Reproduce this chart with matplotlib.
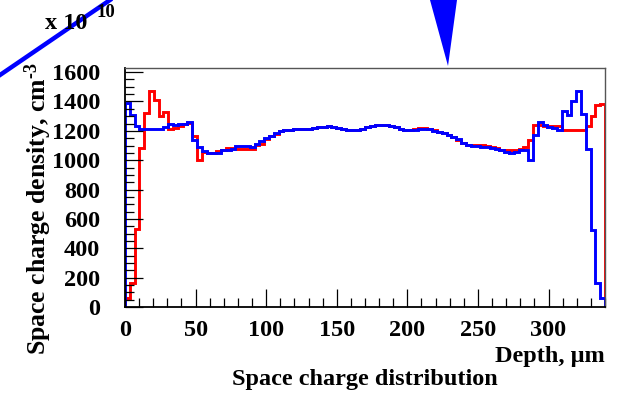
import numpy as np
import matplotlib.pyplot as plt
from matplotlib.patches import Polygon
from matplotlib.lines import Line2D
from matplotlib.ticker import MultipleLocator

plt.rcParams['font.family'] = ['Liberation Serif', 'DejaVu Serif']
plt.rcParams['font.weight'] = 'bold'
plt.rcParams['mathtext.fontset'] = 'custom'
plt.rcParams['mathtext.rm'] = 'Liberation Serif:bold'
plt.rcParams['mathtext.bf'] = 'Liberation Serif:bold'
plt.rcParams['mathtext.it'] = 'Liberation Serif:bold'

# histogram: 100 bins from 0 to 340 um, values in units of 1e10 cm^-3
edges = np.linspace(0, 340, 101)

red = [60, 165, 530, 1080, 1320, 1470, 1410, 1300, 1330, 1210,
       1220, 1230, 1250, 1256, 1166, 1003, 1058, 1049, 1049, 1060,
       1072, 1083, 1083, 1078, 1078, 1074, 1078, 1106, 1113, 1145,
       1163, 1181, 1197, 1203, 1208, 1213, 1213, 1215, 1216, 1220,
       1225, 1228, 1230, 1228, 1222, 1212, 1205, 1203, 1204, 1210,
       1228, 1236, 1242, 1242, 1238, 1230, 1224, 1212, 1208, 1208,
       1213, 1220, 1220, 1215, 1203, 1195, 1185, 1172, 1158, 1140,
       1117, 1106, 1106, 1106, 1106, 1099, 1090, 1083, 1072, 1067,
       1067, 1070, 1078, 1090, 1140, 1242, 1242, 1231, 1235, 1231,
       1231, 1208, 1204, 1204, 1204, 1208, 1231, 1304, 1379, 1386]

blue = [1390, 1310, 1230, 1210, 1210, 1210, 1210, 1215, 1225, 1245,
        1240, 1245, 1250, 1258, 1135, 1088, 1060, 1050, 1050, 1052,
        1068, 1072, 1078, 1094, 1098, 1094, 1090, 1113, 1128, 1151,
        1167, 1185, 1197, 1203, 1208, 1210, 1213, 1215, 1215, 1220,
        1225, 1228, 1230, 1228, 1222, 1212, 1205, 1203, 1204, 1210,
        1228, 1236, 1242, 1242, 1238, 1230, 1224, 1210, 1206, 1205,
        1208, 1210, 1213, 1210, 1200, 1195, 1185, 1175, 1160, 1145,
        1120, 1105, 1097, 1094, 1090, 1090, 1083, 1078, 1067, 1053,
        1049, 1053, 1067, 1072, 1003, 1174, 1258, 1242, 1224, 1220,
        1204, 1333, 1310, 1401, 1470, 1317, 1076, 526, 166, 59]

fig = plt.figure(figsize=(6.22, 3.93), dpi=100)
ax = fig.add_axes([0.201, 0.2188, 0.7717, 0.6081])

ax.stairs(red, edges, baseline=0, color='#ff0000', lw=2.1)
ax.stairs(blue, edges, baseline=0, color='#0000ff', lw=2.1)

ax.set_xlim(0, 340)
ax.set_ylim(0, 1628)

ax.xaxis.set_major_locator(MultipleLocator(50))
ax.xaxis.set_minor_locator(MultipleLocator(10))
ax.yaxis.set_major_locator(MultipleLocator(200))
ax.yaxis.set_minor_locator(MultipleLocator(50))
ax.tick_params(which='both', direction='in', top=False, right=False, width=0.9, color='black')
ax.tick_params(which='major', length=13)
ax.tick_params(which='minor', length=6.5)
ax.tick_params(axis='x', which='major', pad=9, labelsize=17.5)
ax.tick_params(axis='y', which='major', pad=18, labelsize=17.5)

for s in ['left', 'bottom']:
    ax.spines[s].set_linewidth(1.3)
for s in ['top', 'right']:
    ax.spines[s].set_linewidth(1.0)
    ax.spines[s].set_color('#555555')

ax.set_ylabel('Space charge density, cm$^{\u2010 3}$', fontsize=18.5, fontweight='bold', loc='top')
ax.yaxis.set_label_coords(-0.148, 1.025)
ax.set_xlabel('Depth, μm', fontsize=17.5, fontweight='bold', loc='right')
ax.xaxis.set_label_coords(1.0, -0.165)

fig.text(0.587, (393 - 385) / 393, 'Space charge distribution', ha='center', va='baseline',
         fontsize=17.5, fontweight='bold')

# exponent marker
fig.text(45 / 622, 1 - 29 / 393, 'x 10', ha='left', va='baseline', fontsize=17.5, fontweight='bold')
fig.text(97 / 622, 1 - 17 / 393, '10', ha='left', va='baseline', fontsize=13.5, fontweight='bold')

# decorations
fig.add_artist(Line2D([0, 110 / 622], [1 - 75 / 393, 1.0], transform=fig.transFigure,
                      color='#0000ff', lw=3.2))
fig.add_artist(Polygon([(430 / 622, 1.0), (457 / 622, 1.0), (448 / 622, 1 - 66 / 393)],
                       closed=True, transform=fig.transFigure, color='#0000ff', lw=0))

fig.savefig('out.png', dpi=100)
